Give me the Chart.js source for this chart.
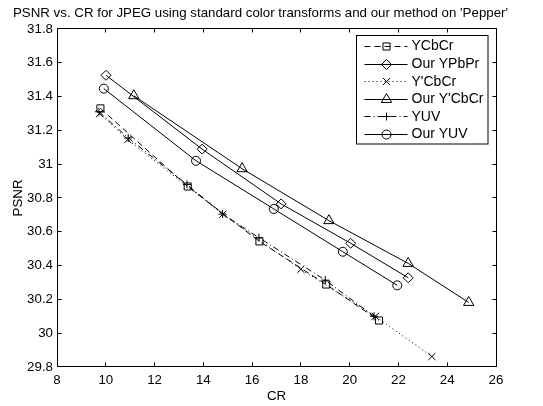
<!DOCTYPE html>
<html><head><meta charset="utf-8">
<script src="https://cdn.jsdelivr.net/npm/chart.js@4.4.1/dist/chart.umd.min.js"></script>
<style>html,body{margin:0;padding:0;background:#fff;}#wrap{width:543px;height:406px;}</style>
</head><body><div id="wrap"><canvas id="c" width="543" height="406"></canvas></div>
<script>
// ---- data ----
const titleText = "PSNR vs. CR for JPEG using standard color transforms and our method on 'Pepper'";
const xAxisLabel = "CR";
const yAxisLabel = "PSNR";
const xTickValues = [8, 10, 12, 14, 16, 18, 20, 22, 24, 26];
const yTickValues = [29.8, 30, 30.2, 30.4, 30.6, 30.8, 31, 31.2, 31.4, 31.6, 31.8];

const seriesNames = ["YCbCr", "Our YPbPr", "Y'CbCr", "Our Y'CbCr", "YUV", "Our YUV"];

const crYCbCr = [9.78, 13.36, 16.30, 19.04, 21.20];
const psnrYCbCr = [31.33, 30.868, 30.543, 30.288, 30.075];

const crOurYPbPr = [10.01, 13.95, 17.19, 20.04, 22.40];
const psnrOurYPbPr = [31.526, 31.089, 30.765, 30.532, 30.328];

const crYpCbCr = [9.75, 10.90, 14.80, 18.00, 21.05, 23.37];
const psnrYpCbCr = [31.30, 31.145, 30.704, 30.378, 30.10, 29.862];

const crOurYpCbCr = [11.15, 15.59, 19.15, 22.40, 24.88];
const psnrOurYpCbCr = [31.405, 30.973, 30.666, 30.413, 30.182];

const crYUV = [9.72, 10.92, 13.33, 14.79, 16.28, 19.00, 21.00];
const psnrYUV = [31.31, 31.155, 30.88, 30.705, 30.565, 30.314, 30.10];

const crOurYUV = [9.92, 13.70, 16.89, 19.72, 21.95];
const psnrOurYUV = [31.447, 31.02, 30.735, 30.482, 30.283];

// ---- styling ----
const FONT = "'Liberation Sans', Arial, Helvetica, sans-serif";
const FS = 13.3;
const LEG_FS = 14;
const NONE = 'rgba(0,0,0,0)';

function ds(label, xs, ys, style, radius, dash) {
  return {
    label,
    data: xs.map((v, i) => ({ x: v, y: ys[i] })),
    showLine: true,
    borderColor: '#000',
    backgroundColor: NONE,
    borderWidth: 1,
    borderDash: dash,
    pointStyle: style,
    pointRadius: radius,
    pointHoverRadius: radius,
    pointBorderColor: '#000',
    pointBackgroundColor: NONE,
    pointBorderWidth: 1,
    tension: 0,
    yAxisID: 'y'
  };
}

const datasets = [
  ds(seriesNames[0], crYCbCr, psnrYCbCr, 'rect', 5, [6, 4]),
  ds(seriesNames[1], crOurYPbPr, psnrOurYPbPr, 'rectRot', 5, []),
  ds(seriesNames[2], crYpCbCr, psnrYpCbCr, 'crossRot', 5, [1, 3]),
  ds(seriesNames[3], crOurYpCbCr, psnrOurYpCbCr, 'triangle', 6, []),
  ds(seriesNames[4], crYUV, psnrYUV, 'cross', 4, [6, 3, 1, 3]),
  ds(seriesNames[5], crOurYUV, psnrOurYUV, 'circle', 4.5, [])
];

function align(p) { return Math.round(p - 0.5) + 0.5; }

const boxPlugin = {
  id: 'boxTicks',
  afterDatasetsDraw(chart) {
    const { ctx, chartArea: a, scales: { x, y } } = chart;
    const L = align(a.left), R = align(a.right), T = align(a.top), B = align(a.bottom);
    const tl = 4;
    ctx.save();
    ctx.strokeStyle = '#000';
    ctx.lineWidth = 1;
    ctx.setLineDash([]);
    ctx.beginPath();
    ctx.moveTo(L, T); ctx.lineTo(R, T); ctx.lineTo(R, B);
    x.ticks.forEach(t => {
      const px = align(x.getPixelForValue(t.value));
      ctx.moveTo(px, B); ctx.lineTo(px, B - tl);
      ctx.moveTo(px, T); ctx.lineTo(px, T + tl);
    });
    y.ticks.forEach(t => {
      const py = align(y.getPixelForValue(t.value));
      ctx.moveTo(L, py); ctx.lineTo(L + tl, py);
      ctx.moveTo(R, py); ctx.lineTo(R - tl, py);
    });
    ctx.stroke();
    ctx.restore();
  },
  afterDraw(chart) {
    // legend box
    const { ctx, chartArea: a } = chart;
    const bx = align(a.right - 139.5), by = align(a.top + 6.5);
    const bw = 131.5, bh = 108.5;
    ctx.save();
    ctx.fillStyle = '#fff';
    ctx.fillRect(bx, by, bw, bh);
    ctx.strokeStyle = '#000';
    ctx.lineWidth = 1;
    ctx.setLineDash([]);
    ctx.strokeRect(bx, by, bw, bh);
    const rowH = 17.6;
    chart.data.datasets.forEach((d, i) => {
      const ry = by + 10.5 + i * rowH;
      const x0 = bx + 8, x1 = bx + 51, xm = bx + 30;
      ctx.strokeStyle = '#000';
      ctx.lineWidth = 1;
      ctx.setLineDash(d.borderDash || []);
      ctx.beginPath();
      ctx.moveTo(x0, Math.round(ry) + 0.5);
      ctx.lineTo(x1, Math.round(ry) + 0.5);
      ctx.stroke();
      ctx.setLineDash([]);
      ctx.fillStyle = NONE;
      Chart.helpers.drawPoint(ctx, {
        pointStyle: d.pointStyle, radius: d.pointRadius, rotation: 0, borderWidth: 1
      }, xm, Math.round(ry) + 0.5);
      ctx.fillStyle = '#000';
      ctx.font = LEG_FS + 'px ' + FONT;
      ctx.textAlign = 'left';
      ctx.textBaseline = 'middle';
      ctx.fillText(d.label, bx + 55, ry + 0.5);
    });
    ctx.restore();
  }
};

new Chart(document.getElementById('c'), {
  type: 'scatter',
  data: { datasets },
  options: {
    responsive: false,
    animation: false,
    events: [],
    layout: { padding: { top: 0, left: 0, right: 22, bottom: 0 } },
    plugins: {
      legend: { display: false },
      tooltip: { enabled: false },
      title: {
        display: true,
        text: titleText,
        color: '#000',
        font: { family: FONT, size: FS, weight: 'normal', lineHeight: 1.2 },
        padding: { top: 5, bottom: 8 }
      }
    },
    scales: {
      x: {
        type: 'linear',
        min: xTickValues[0],
        max: xTickValues[xTickValues.length - 1],
        afterBuildTicks: s => { s.ticks = xTickValues.map(v => ({ value: v })); },
        afterFit: s => { s.height = 39; },
        grid: { display: false, drawTicks: false },
        border: { display: true, color: '#000', width: 1 },
        ticks: {
          color: '#000', padding: 5.5, maxRotation: 0, autoSkip: false,
          font: { family: FONT, size: FS },
          callback: v => String(v)
        },
        title: {
          display: true, text: xAxisLabel, color: '#000',
          font: { family: FONT, size: FS, lineHeight: 1.2 },
          padding: { top: 0, bottom: 2 }
        }
      },
      y: {
        type: 'linear',
        min: yTickValues[0],
        max: yTickValues[yTickValues.length - 1],
        afterBuildTicks: s => { s.ticks = yTickValues.map(v => ({ value: v })); },
        afterFit: s => { s.width = 57; },
        grid: { display: false, drawTicks: false },
        border: { display: true, color: '#000', width: 1 },
        ticks: {
          color: '#000', padding: 4, autoSkip: false,
          font: { family: FONT, size: FS },
          callback: v => String(Number(v.toFixed(1)))
        },
        title: {
          display: true, text: yAxisLabel, color: '#000',
          font: { family: FONT, size: FS, lineHeight: 1.2 },
          padding: { top: 10, bottom: 0 }
        }
      },
      yRight: {
        type: 'linear',
        position: 'right',
        display: true,
        min: yTickValues[0],
        max: yTickValues[yTickValues.length - 1],
        afterFit: s => { s.width = 25; },
        grid: { display: false, drawTicks: false },
        border: { display: false },
        ticks: { display: false }
      }
    }
  },
  plugins: [boxPlugin]
});
</script>
</body></html>
